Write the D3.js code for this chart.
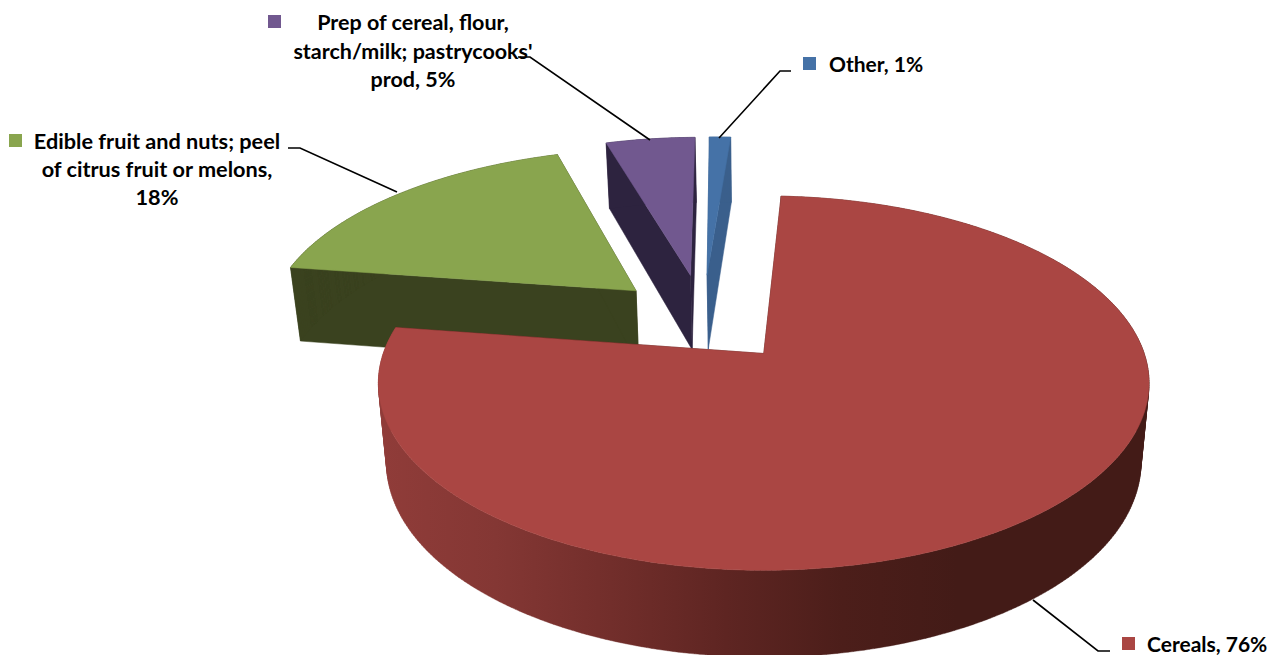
<!DOCTYPE html>
<html>
<head>
<meta charset="utf-8">
<script src="https://cdn.jsdelivr.net/npm/d3@7/dist/d3.min.js"></script>
<style>
html,body{margin:0;padding:0;background:#fff}
svg{display:block}
text{font-family:Lato,"Open Sans",sans-serif;font-weight:700;fill:#000}
</style>
</head>
<body>
<svg id="c" width="1275" height="655"></svg>
<script>
// Data
const categories = ["Cereals", "Edible fruit and nuts; peel of citrus fruit or melons", "Prep of cereal, flour, starch/milk; pastrycooks' prod", "Other"];
const values = [76.5, 17.8, 4.6, 1.1];
const labelLines = [
  ["Cereals, 76%"],
  ["Edible fruit and nuts; peel", "of citrus fruit or melons,", "18%"],
  ["Prep of cereal, flour,", "starch/milk; pastrycooks'", "prod, 5%"],
  ["Other, 1%"]
];

// Styles / layout (not data)
const topColors  = ["#AA4643", "#89A54E", "#71588F", "#4572A7"];
const sideColors = ["#4a1c18", "#3A421F", "#2D233F", "#3A5F8C"];
const W = 1275, H = 655;
const startAngle = 3.0 * Math.PI / 180;
const explodeBy = [0.26, 0.25, 0.26, 0.26];
const origin = {u: -0.168, v: -0.193};
const persp = 0.158;
const depth0 = 78, depthSlope = 8.8, shrink = 0.021;
const labelLayout = [
  {swatch:[1122,637], anchor:"start",  size:21,   x:1147, y:652, lh:28, leader:[[1033,600],[1098,651],[1110,651]]},
  {swatch:[9,134],    anchor:"middle", size:21.7, x:157, y:149, lh:28, leader:[[397,192],[300,148],[288,148]]},
  {swatch:[268,15],   anchor:"middle", size:21.5, x:413, y:30,  lh:28.5, leader:[[650,140],[530,57],[518,57]]},
  {swatch:[803,57],   anchor:"start",  size:21,   x:829, y:72,  lh:28, leader:[[719,138],[780,71],[791,71]]}
];

const svg = d3.select("#c");
const defs = svg.append("defs");
const grad = defs.append("linearGradient").attr("id","rimRed")
  .attr("gradientUnits","userSpaceOnUse").attr("x1",380).attr("x2",1150).attr("y1",0).attr("y2",0);
[[0,"#903C39"],[0.15,"#843734"],[0.3,"#722E2B"],[0.45,"#5E2522"],[0.6,"#4C1E1A"],[0.75,"#431B17"],[1,"#431B17"]]
  .forEach(s => grad.append("stop").attr("offset",s[0]).attr("stop-color",s[1]));

const sx = d3.scaleLinear().domain([0,1]).range([765, 765 + 380]);
const sy = d3.scaleLinear().domain([0,1]).range([352, 352 + 182]);

function project(u, v) {
  const d = 1 - persp * v;
  return [sx(u / d), sy(v / d)];
}
function projectLow(u, v) {
  const p = project(u, v);
  return [p[0] - (p[0] - sx(0)) * shrink, p[1] + depth0 + depthSlope * v];
}

const pie = d3.pie().sort(null).startAngle(startAngle).endAngle(startAngle + 2 * Math.PI);
const arcs = pie(values);
const line = d3.line().curve(d3.curveLinear);

function rimPoints(a, n, explode) {
  const mid = (a.startAngle + a.endAngle) / 2;
  const cu = origin.u + explode * Math.sin(mid), cv = origin.v - explode * Math.cos(mid);
  const steps = d3.range(n + 1).map(i => a.startAngle + (a.endAngle - a.startAngle) * i / n);
  return {cu, cv, pts: steps.map(t => [cu + Math.sin(t), cv - Math.cos(t)])};
}
// every quad of the rim gets the same winding, so overlaps never cancel out
function quadPath(q) {
  return line(d3.polygonArea(q) < 0 ? q.slice().reverse() : q) + "Z";
}

const g = svg.append("g");
[3, 2, 1, 0].forEach(i => {
  const a = arcs[i];
  const {cu, cv, pts} = rimPoints(a, Math.max(12, Math.round((a.endAngle - a.startAngle) * 80)), explodeBy[i]);
  const last = pts[pts.length - 1];
  // cut faces
  [pts[0], last].forEach(p => {
    g.append("path").attr("fill", sideColors[i]).attr("stroke", sideColors[i]).attr("stroke-width", 0.5)
      .attr("d", line([project(cu, cv), project(p[0], p[1]), projectLow(p[0], p[1]), projectLow(cu, cv)]) + "Z");
  });
  // rim
  const rim = d3.pairs(pts).map(([p, q]) => quadPath([
    project(p[0], p[1]), project(q[0], q[1]), projectLow(q[0], q[1]), projectLow(p[0], p[1])
  ])).join("");
  g.append("path").attr("fill", i === 0 ? "url(#rimRed)" : sideColors[i])
    .attr("stroke", i === 0 ? "url(#rimRed)" : sideColors[i]).attr("stroke-width", 0.4).attr("d", rim);
  // top
  const top = [project(cu, cv)].concat(pts.map(p => project(p[0], p[1])));
  g.append("path").attr("fill", topColors[i]).attr("stroke", topColors[i]).attr("stroke-width", 0.5)
    .attr("d", line(top) + "Z");
});

// Labels
labelLayout.forEach((l, i) => {
  svg.append("path").attr("fill","none").attr("stroke","#000").attr("stroke-width",1.6).attr("d", line(l.leader));
  svg.append("rect").attr("x", l.swatch[0]).attr("y", l.swatch[1]).attr("width",13).attr("height",13).attr("fill", topColors[i]);
  const t = svg.append("text").attr("text-anchor", l.anchor).attr("font-size", l.size);
  labelLines[i].forEach((s, k) => t.append("tspan").attr("x", l.x).attr("y", l.y + k * l.lh).text(s));
});
</script>
</body>
</html>
